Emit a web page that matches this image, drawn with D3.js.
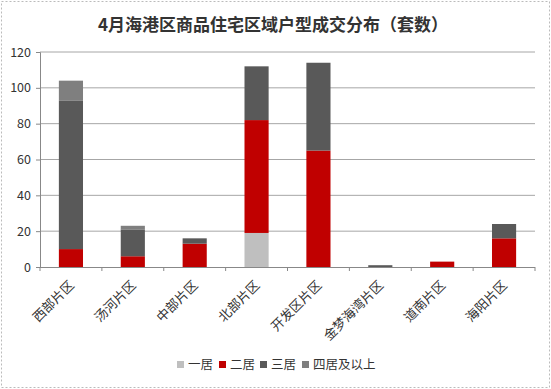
<!DOCTYPE html>
<html>
<head>
<meta charset="utf-8">
<script src="https://cdn.jsdelivr.net/npm/d3@7"></script>
<style>
  body { margin: 0; background: #fff; }
  text { font-family: "Microsoft YaHei", "Noto Sans CJK SC", sans-serif; }
</style>
</head>
<body>
<div id="chart"></div>
<script>
const regions = ["西部片区", "汤河片区", "中部片区", "北部片区", "开发区片区", "金梦海湾片区", "道南片区", "海阳片区"];
const seriesNames = ["一居", "二居", "三居", "四居及以上"];
const oneRoom   = [0, 0, 0, 19, 0, 0, 0, 0];
const twoRoom   = [10, 6, 13, 63, 65, 0, 3, 16];
const threeRoom = [83, 15, 3, 30, 49, 1, 0, 8];
const fourPlus  = [11, 2, 0, 0, 0, 0, 0, 0];
const yTicks = [0, 20, 40, 60, 80, 100, 120];
const colors = ["#bfbfbf", "#c00000", "#595959", "#7f7f7f"];

const w = 551, h = 389;
const padLeft = 40, padRight = 535, padTop = 52, padBottom = 267;

const svg = d3.select("#chart").append("svg")
    .attr("width", w).attr("height", h);

svg.append("rect")
    .attr("x", 1.5).attr("y", 1.5).attr("width", w - 3).attr("height", h - 3)
    .attr("fill", "#fff").attr("stroke", "#bbb").attr("stroke-dasharray", "2,2");

svg.append("text")
    .attr("x", 273).attr("y", 31)
    .attr("text-anchor", "middle")
    .style("font-size", "17px").style("font-weight", "bold").attr("fill", "#333")
    .text("4月海港区商品住宅区域户型成交分布（套数）");

const table = regions.map((r, i) => ({
    region: r,
    "一居": oneRoom[i], "二居": twoRoom[i], "三居": threeRoom[i], "四居及以上": fourPlus[i]
}));
const stacked = d3.stack().keys(seriesNames)(table);

const xScale = d3.scaleBand().domain(regions).range([padLeft, padRight]).paddingInner(0.61).paddingOuter(0.305);
const yScale = d3.scaleLinear().domain([0, 120]).range([padBottom, padTop]);

// grid
svg.append("g").selectAll("line")
    .data(yTicks.filter(d => d > 0))
    .enter().append("line")
    .attr("x1", padLeft).attr("x2", padRight)
    .attr("y1", d => yScale(d)).attr("y2", d => yScale(d))
    .attr("stroke", "#a6a6a6").attr("stroke-width", 1);

// bars
svg.append("g").selectAll("g")
    .data(stacked)
    .enter().append("g")
    .attr("fill", (d, i) => colors[i])
    .selectAll("rect")
    .data(d => d)
    .enter().append("rect")
    .attr("x", d => xScale(d.data.region))
    .attr("width", xScale.bandwidth())
    .attr("y", d => yScale(d[1]))
    .attr("height", d => yScale(d[0]) - yScale(d[1]));

// y axis
const yAxis = d3.axisLeft(yScale).tickValues(yTicks).tickSize(4).tickPadding(5);
const gy = svg.append("g").attr("transform", "translate(" + padLeft + ",0)").call(yAxis);
gy.select(".domain").attr("stroke", "#888");
gy.selectAll(".tick line").attr("stroke", "#888");
gy.selectAll("text").style("font-size", "12.5px").attr("fill", "#333");

// x axis
const step = xScale.step();
const bounds = d3.range(regions.length + 1).map(i => padLeft + i * step);
const gx = svg.append("g");
gx.append("line").attr("x1", padLeft).attr("x2", padRight)
    .attr("y1", padBottom + 0.5).attr("y2", padBottom + 0.5).attr("stroke", "#888");
gx.selectAll(".tk").data(bounds).enter().append("line")
    .attr("x1", d => d).attr("x2", d => d)
    .attr("y1", padBottom).attr("y2", padBottom + 4).attr("stroke", "#888");
gx.selectAll(".lbl").data(regions).enter().append("text")
    .attr("transform", d => "translate(" + (xScale(d) + xScale.bandwidth() / 2 + 4) + "," + (padBottom + 19) + ") rotate(-45)")
    .attr("text-anchor", "end")
    .style("font-size", "13px").attr("fill", "#333")
    .text(d => d);

// legend
const legendX = [177, 219, 260, 302];
const lg = svg.append("g").selectAll("g").data(seriesNames).enter().append("g")
    .attr("transform", (d, i) => "translate(" + legendX[i] + ",361)");
lg.append("rect").attr("width", 7).attr("height", 7).attr("fill", (d, i) => colors[i]);
lg.append("text").attr("x", 11).attr("y", 8)
    .style("font-size", "12.5px").attr("fill", "#333").text(d => d);
</script>
</body>
</html>
